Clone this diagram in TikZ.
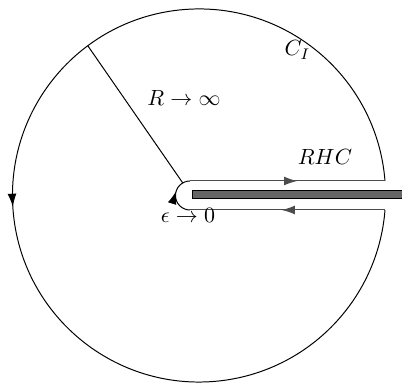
\documentclass[tikz,border=0pt]{standalone}
\usepackage{amsmath}
\usepackage{tikz}
\usetikzlibrary{arrows.meta, decorations.markings}

\begin{document}
\begin{tikzpicture}[
    x=0.455pt, y=0.455pt,
    contour/.style={line width=0.45pt},
    leg/.style={line width=0.45pt, draw=black!70},
    midarrow/.style={
      postaction={decorate},
      decoration={markings,
        mark=at position #1 with {\arrow{Latex[length=6pt,width=4pt]}}}
    },
    lbl/.style={inner sep=0pt, anchor=base}
  ]
    \useasboundingbox (0,0) rectangle (402,383);

    % centres of the big and the small circle
    \coordinate (O) at (199,187.5);
    \coordinate (o) at (190,187.5);
    \coordinate (upL) at (190,202);
    \coordinate (upR) at (385,202);
    \coordinate (loL) at (190,173);
    \coordinate (loR) at (385,173);

    % branch cut
    \draw[line width=0.45pt, fill=black!60] (192,184) rectangle (402,192);

    % keyhole contour
    \draw[contour, midarrow=0.51] (upR) arc[start angle=4.46, end angle=355.54, radius=186.56];
    \draw[leg, midarrow=0.53] (loR) -- (loL);
    \draw[contour, midarrow=0.6] (loL) arc[start angle=270, end angle=90, radius=14.5];
    \draw[leg, midarrow=0.55] (upL) -- (upR);

    % radius
    \coordinate (rim) at ([shift={(O)}]126.6:186.3);
    \coordinate (hub) at ([shift={(o)}]120:14.5);
    \draw[contour] (rim) -- (hub);

    \node[lbl] (ci) at (297.5,327) {$C_I$};
    \node[lbl] (rinf) at (184,277) {$R\to\infty$};
    \node[lbl] (rhc) at (325,218) {$RHC$};
    \node[lbl] (eps) at (188,160) {$\epsilon\to 0$};
  \end{tikzpicture}
\end{document}
